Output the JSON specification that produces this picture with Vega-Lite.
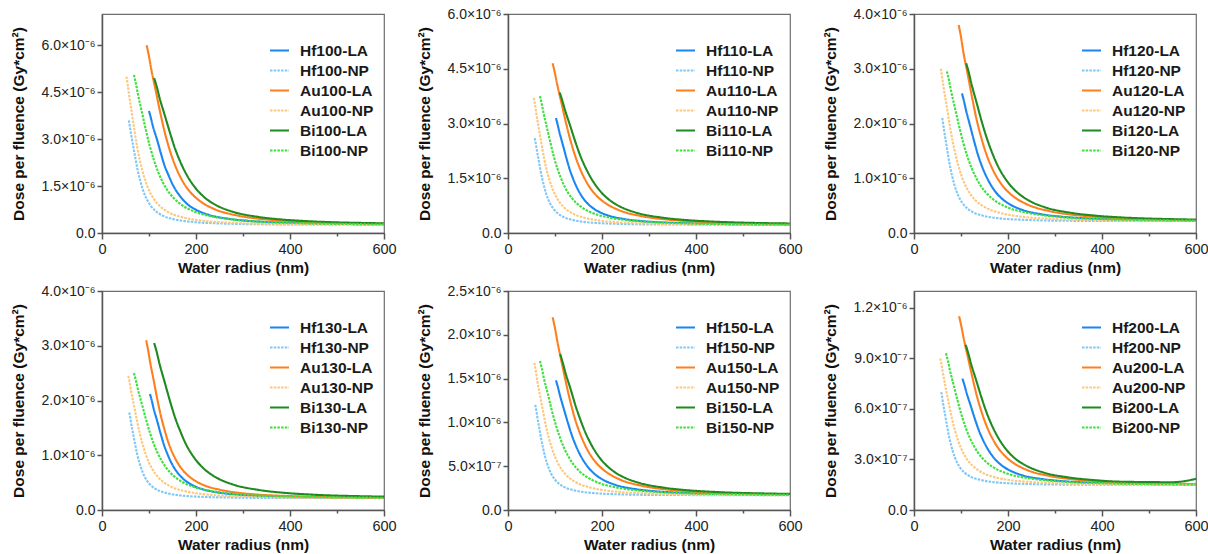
{
"$schema":"https://vega.github.io/schema/vega-lite/v6.json",
"background":"white",
"padding":{"left":10,"top":6,"right":2,"bottom":2},
"columns":3,
"spacing":{"row":6,"column":19},
"datasets":{"d":[
{"k":"Hf100-LA","x":100,"y":3.90e-6},{"k":"Hf100-LA","x":104,"y":3.68e-6},{"k":"Hf100-LA","x":108,"y":3.43e-6},{"k":"Hf100-LA","x":117,"y":2.99e-6},{"k":"Hf100-LA","x":125,"y":2.56e-6},{"k":"Hf100-LA","x":133,"y":2.16e-6},{"k":"Hf100-LA","x":142,"y":1.83e-6},{"k":"Hf100-LA","x":150,"y":1.56e-6},{"k":"Hf100-LA","x":167,"y":1.16e-6},{"k":"Hf100-LA","x":183,"y":0.905e-6},{"k":"Hf100-LA","x":200,"y":0.742e-6},{"k":"Hf100-LA","x":225,"y":0.589e-6},{"k":"Hf100-LA","x":267,"y":0.459e-6},{"k":"Hf100-LA","x":308,"y":0.390e-6},{"k":"Hf100-LA","x":350,"y":0.350e-6},{"k":"Hf100-LA","x":433,"y":0.310e-6},{"k":"Hf100-LA","x":517,"y":0.288e-6},{"k":"Hf100-LA","x":600,"y":0.277e-6},
{"k":"Hf100-NP","x":57,"y":3.60e-6},{"k":"Hf100-NP","x":59.4,"y":3.40e-6},{"k":"Hf100-NP","x":61.8,"y":3.17e-6},{"k":"Hf100-NP","x":66.5,"y":2.77e-6},{"k":"Hf100-NP","x":71.3,"y":2.37e-6},{"k":"Hf100-NP","x":76,"y":2.00e-6},{"k":"Hf100-NP","x":80.8,"y":1.70e-6},{"k":"Hf100-NP","x":85.5,"y":1.45e-6},{"k":"Hf100-NP","x":95,"y":1.09e-6},{"k":"Hf100-NP","x":104.5,"y":0.853e-6},{"k":"Hf100-NP","x":114,"y":0.703e-6},{"k":"Hf100-NP","x":128,"y":0.563e-6},{"k":"Hf100-NP","x":152,"y":0.443e-6},{"k":"Hf100-NP","x":176,"y":0.380e-6},{"k":"Hf100-NP","x":199.5,"y":0.343e-6},{"k":"Hf100-NP","x":247,"y":0.307e-6},{"k":"Hf100-NP","x":294.5,"y":0.287e-6},{"k":"Hf100-NP","x":342,"y":0.277e-6},{"k":"Hf100-NP","x":389.5,"y":0.272e-6},{"k":"Hf100-NP","x":450,"y":0.270e-6},{"k":"Hf100-NP","x":600,"y":0.270e-6},
{"k":"Au100-LA","x":95,"y":6.00e-6},{"k":"Au100-LA","x":99.8,"y":5.66e-6},{"k":"Au100-LA","x":104.5,"y":5.26e-6},{"k":"Au100-LA","x":114,"y":4.57e-6},{"k":"Au100-LA","x":123.5,"y":3.88e-6},{"k":"Au100-LA","x":133,"y":3.25e-6},{"k":"Au100-LA","x":142.5,"y":2.73e-6},{"k":"Au100-LA","x":152,"y":2.30e-6},{"k":"Au100-LA","x":171,"y":1.67e-6},{"k":"Au100-LA","x":190,"y":1.27e-6},{"k":"Au100-LA","x":209,"y":1.015e-6},{"k":"Au100-LA","x":237.5,"y":0.774e-6},{"k":"Au100-LA","x":285,"y":0.568e-6},{"k":"Au100-LA","x":332.5,"y":0.459e-6},{"k":"Au100-LA","x":380,"y":0.396e-6},{"k":"Au100-LA","x":475,"y":0.333e-6},{"k":"Au100-LA","x":570,"y":0.299e-6},{"k":"Au100-LA","x":600,"y":0.293e-6},
{"k":"Au100-NP","x":52,"y":5.00e-6},{"k":"Au100-NP","x":54.9,"y":4.72e-6},{"k":"Au100-NP","x":57.8,"y":4.39e-6},{"k":"Au100-NP","x":63.6,"y":3.82e-6},{"k":"Au100-NP","x":69.3,"y":3.25e-6},{"k":"Au100-NP","x":75.1,"y":2.73e-6},{"k":"Au100-NP","x":80.9,"y":2.30e-6},{"k":"Au100-NP","x":86.7,"y":1.95e-6},{"k":"Au100-NP","x":98.2,"y":1.43e-6},{"k":"Au100-NP","x":109.8,"y":1.10e-6},{"k":"Au100-NP","x":121.3,"y":0.885e-6},{"k":"Au100-NP","x":138.7,"y":0.686e-6},{"k":"Au100-NP","x":167.6,"y":0.516e-6},{"k":"Au100-NP","x":196.4,"y":0.426e-6},{"k":"Au100-NP","x":225.3,"y":0.374e-6},{"k":"Au100-NP","x":283.1,"y":0.322e-6},{"k":"Au100-NP","x":340.9,"y":0.294e-6},{"k":"Au100-NP","x":398.7,"y":0.279e-6},{"k":"Au100-NP","x":456.4,"y":0.272e-6},{"k":"Au100-NP","x":600,"y":0.270e-6},
{"k":"Bi100-LA","x":111,"y":4.95e-6},{"k":"Bi100-LA","x":116.6,"y":4.67e-6},{"k":"Bi100-LA","x":122.1,"y":4.34e-6},{"k":"Bi100-LA","x":133.2,"y":3.78e-6},{"k":"Bi100-LA","x":144.3,"y":3.22e-6},{"k":"Bi100-LA","x":155.4,"y":2.70e-6},{"k":"Bi100-LA","x":166.5,"y":2.28e-6},{"k":"Bi100-LA","x":177.6,"y":1.93e-6},{"k":"Bi100-LA","x":199.8,"y":1.42e-6},{"k":"Bi100-LA","x":222,"y":1.09e-6},{"k":"Bi100-LA","x":244.2,"y":0.878e-6},{"k":"Bi100-LA","x":277.5,"y":0.682e-6},{"k":"Bi100-LA","x":333,"y":0.513e-6},{"k":"Bi100-LA","x":388.5,"y":0.424e-6},{"k":"Bi100-LA","x":444,"y":0.373e-6},{"k":"Bi100-LA","x":555,"y":0.321e-6},{"k":"Bi100-LA","x":600,"y":0.310e-6},
{"k":"Bi100-NP","x":68,"y":5.05e-6},{"k":"Bi100-NP","x":72.3,"y":4.76e-6},{"k":"Bi100-NP","x":76.5,"y":4.43e-6},{"k":"Bi100-NP","x":85,"y":3.86e-6},{"k":"Bi100-NP","x":93.5,"y":3.28e-6},{"k":"Bi100-NP","x":102,"y":2.76e-6},{"k":"Bi100-NP","x":110.5,"y":2.33e-6},{"k":"Bi100-NP","x":119,"y":1.97e-6},{"k":"Bi100-NP","x":136,"y":1.44e-6},{"k":"Bi100-NP","x":153,"y":1.11e-6},{"k":"Bi100-NP","x":170,"y":0.891e-6},{"k":"Bi100-NP","x":195.5,"y":0.691e-6},{"k":"Bi100-NP","x":238,"y":0.519e-6},{"k":"Bi100-NP","x":280.5,"y":0.428e-6},{"k":"Bi100-NP","x":323,"y":0.375e-6},{"k":"Bi100-NP","x":408,"y":0.323e-6},{"k":"Bi100-NP","x":493,"y":0.294e-6},{"k":"Bi100-NP","x":578,"y":0.280e-6},{"k":"Bi100-NP","x":600,"y":0.278e-6},

{"k":"Hf110-LA","x":102,"y":3.15e-6},{"k":"Hf110-LA","x":105.6,"y":2.97e-6},{"k":"Hf110-LA","x":109.3,"y":2.77e-6},{"k":"Hf110-LA","x":116.6,"y":2.42e-6},{"k":"Hf110-LA","x":123.9,"y":2.07e-6},{"k":"Hf110-LA","x":131.1,"y":1.75e-6},{"k":"Hf110-LA","x":138.4,"y":1.49e-6},{"k":"Hf110-LA","x":145.7,"y":1.27e-6},{"k":"Hf110-LA","x":160.3,"y":0.945e-6},{"k":"Hf110-LA","x":174.9,"y":0.741e-6},{"k":"Hf110-LA","x":189.4,"y":0.610e-6},{"k":"Hf110-LA","x":211.3,"y":0.487e-6},{"k":"Hf110-LA","x":247.7,"y":0.382e-6},{"k":"Hf110-LA","x":284.1,"y":0.326e-6},{"k":"Hf110-LA","x":320.6,"y":0.294e-6},{"k":"Hf110-LA","x":393.4,"y":0.262e-6},{"k":"Hf110-LA","x":466.2,"y":0.245e-6},{"k":"Hf110-LA","x":539.2,"y":0.236e-6},{"k":"Hf110-LA","x":600,"y":0.231e-6},
{"k":"Hf110-NP","x":57,"y":2.60e-6},{"k":"Hf110-NP","x":59,"y":2.46e-6},{"k":"Hf110-NP","x":61.1,"y":2.29e-6},{"k":"Hf110-NP","x":65.1,"y":2.01e-6},{"k":"Hf110-NP","x":69.2,"y":1.72e-6},{"k":"Hf110-NP","x":73.3,"y":1.46e-6},{"k":"Hf110-NP","x":77.4,"y":1.25e-6},{"k":"Hf110-NP","x":81.4,"y":1.07e-6},{"k":"Hf110-NP","x":89.6,"y":0.811e-6},{"k":"Hf110-NP","x":97.7,"y":0.645e-6},{"k":"Hf110-NP","x":105.9,"y":0.538e-6},{"k":"Hf110-NP","x":118.1,"y":0.439e-6},{"k":"Hf110-NP","x":138.4,"y":0.353e-6},{"k":"Hf110-NP","x":158.8,"y":0.308e-6},{"k":"Hf110-NP","x":179.1,"y":0.282e-6},{"k":"Hf110-NP","x":219.9,"y":0.256e-6},{"k":"Hf110-NP","x":260.6,"y":0.242e-6},{"k":"Hf110-NP","x":301.3,"y":0.235e-6},{"k":"Hf110-NP","x":342,"y":0.232e-6},{"k":"Hf110-NP","x":450,"y":0.230e-6},{"k":"Hf110-NP","x":600,"y":0.230e-6},
{"k":"Au110-LA","x":95,"y":4.65e-6},{"k":"Au110-LA","x":99.8,"y":4.38e-6},{"k":"Au110-LA","x":104.5,"y":4.08e-6},{"k":"Au110-LA","x":114,"y":3.55e-6},{"k":"Au110-LA","x":123.5,"y":3.01e-6},{"k":"Au110-LA","x":133,"y":2.53e-6},{"k":"Au110-LA","x":142.5,"y":2.13e-6},{"k":"Au110-LA","x":152,"y":1.80e-6},{"k":"Au110-LA","x":171,"y":1.31e-6},{"k":"Au110-LA","x":190,"y":1.00e-6},{"k":"Au110-LA","x":209,"y":0.805e-6},{"k":"Au110-LA","x":237.5,"y":0.619e-6},{"k":"Au110-LA","x":285,"y":0.460e-6},{"k":"Au110-LA","x":332.5,"y":0.376e-6},{"k":"Au110-LA","x":380,"y":0.327e-6},{"k":"Au110-LA","x":475,"y":0.279e-6},{"k":"Au110-LA","x":570,"y":0.252e-6},{"k":"Au110-LA","x":600,"y":0.248e-6},
{"k":"Au110-NP","x":55,"y":3.70e-6},{"k":"Au110-NP","x":57.8,"y":3.49e-6},{"k":"Au110-NP","x":60.5,"y":3.25e-6},{"k":"Au110-NP","x":66,"y":2.83e-6},{"k":"Au110-NP","x":71.5,"y":2.42e-6},{"k":"Au110-NP","x":77,"y":2.03e-6},{"k":"Au110-NP","x":82.5,"y":1.72e-6},{"k":"Au110-NP","x":88,"y":1.46e-6},{"k":"Au110-NP","x":99,"y":1.08e-6},{"k":"Au110-NP","x":110,"y":0.837e-6},{"k":"Au110-NP","x":121,"y":0.681e-6},{"k":"Au110-NP","x":137.5,"y":0.535e-6},{"k":"Au110-NP","x":165,"y":0.410e-6},{"k":"Au110-NP","x":192.5,"y":0.345e-6},{"k":"Au110-NP","x":220,"y":0.306e-6},{"k":"Au110-NP","x":275,"y":0.268e-6},{"k":"Au110-NP","x":330,"y":0.247e-6},{"k":"Au110-NP","x":385,"y":0.237e-6},{"k":"Au110-NP","x":440,"y":0.232e-6},{"k":"Au110-NP","x":600,"y":0.230e-6},
{"k":"Bi110-LA","x":110,"y":3.85e-6},{"k":"Bi110-LA","x":115.5,"y":3.63e-6},{"k":"Bi110-LA","x":121,"y":3.38e-6},{"k":"Bi110-LA","x":132,"y":2.95e-6},{"k":"Bi110-LA","x":143,"y":2.51e-6},{"k":"Bi110-LA","x":154,"y":2.11e-6},{"k":"Bi110-LA","x":165,"y":1.79e-6},{"k":"Bi110-LA","x":176,"y":1.52e-6},{"k":"Bi110-LA","x":198,"y":1.12e-6},{"k":"Bi110-LA","x":220,"y":0.864e-6},{"k":"Bi110-LA","x":242,"y":0.701e-6},{"k":"Bi110-LA","x":275,"y":0.549e-6},{"k":"Bi110-LA","x":330,"y":0.418e-6},{"k":"Bi110-LA","x":385,"y":0.349e-6},{"k":"Bi110-LA","x":440,"y":0.310e-6},{"k":"Bi110-LA","x":550,"y":0.270e-6},{"k":"Bi110-LA","x":600,"y":0.261e-6},
{"k":"Bi110-NP","x":68,"y":3.75e-6},{"k":"Bi110-NP","x":71.8,"y":3.54e-6},{"k":"Bi110-NP","x":75.6,"y":3.29e-6},{"k":"Bi110-NP","x":83.1,"y":2.87e-6},{"k":"Bi110-NP","x":90.7,"y":2.45e-6},{"k":"Bi110-NP","x":98.2,"y":2.06e-6},{"k":"Bi110-NP","x":105.8,"y":1.74e-6},{"k":"Bi110-NP","x":113.3,"y":1.48e-6},{"k":"Bi110-NP","x":128.4,"y":1.09e-6},{"k":"Bi110-NP","x":143.6,"y":0.846e-6},{"k":"Bi110-NP","x":158.7,"y":0.688e-6},{"k":"Bi110-NP","x":181.3,"y":0.540e-6},{"k":"Bi110-NP","x":219.1,"y":0.413e-6},{"k":"Bi110-NP","x":256.9,"y":0.346e-6},{"k":"Bi110-NP","x":294.7,"y":0.307e-6},{"k":"Bi110-NP","x":370.2,"y":0.269e-6},{"k":"Bi110-NP","x":445.8,"y":0.248e-6},{"k":"Bi110-NP","x":521.3,"y":0.237e-6},{"k":"Bi110-NP","x":600,"y":0.230e-6},

{"k":"Hf120-LA","x":102,"y":2.55e-6},{"k":"Hf120-LA","x":106.3,"y":2.41e-6},{"k":"Hf120-LA","x":110.5,"y":2.25e-6},{"k":"Hf120-LA","x":119,"y":1.97e-6},{"k":"Hf120-LA","x":127.5,"y":1.69e-6},{"k":"Hf120-LA","x":136,"y":1.43e-6},{"k":"Hf120-LA","x":144.5,"y":1.22e-6},{"k":"Hf120-LA","x":153,"y":1.05e-6},{"k":"Hf120-LA","x":170,"y":0.791e-6},{"k":"Hf120-LA","x":187,"y":0.628e-6},{"k":"Hf120-LA","x":204,"y":0.523e-6},{"k":"Hf120-LA","x":229.5,"y":0.425e-6},{"k":"Hf120-LA","x":272,"y":0.341e-6},{"k":"Hf120-LA","x":314.5,"y":0.297e-6},{"k":"Hf120-LA","x":357,"y":0.271e-6},{"k":"Hf120-LA","x":442,"y":0.246e-6},{"k":"Hf120-LA","x":527,"y":0.232e-6},{"k":"Hf120-LA","x":600,"y":0.225e-6},
{"k":"Hf120-NP","x":60,"y":2.10e-6},{"k":"Hf120-NP","x":62.1,"y":1.99e-6},{"k":"Hf120-NP","x":64.3,"y":1.86e-6},{"k":"Hf120-NP","x":68.6,"y":1.63e-6},{"k":"Hf120-NP","x":72.9,"y":1.40e-6},{"k":"Hf120-NP","x":77.1,"y":1.20e-6},{"k":"Hf120-NP","x":81.4,"y":1.03e-6},{"k":"Hf120-NP","x":85.7,"y":0.887e-6},{"k":"Hf120-NP","x":94.3,"y":0.681e-6},{"k":"Hf120-NP","x":102.9,"y":0.549e-6},{"k":"Hf120-NP","x":111.4,"y":0.464e-6},{"k":"Hf120-NP","x":124.3,"y":0.385e-6},{"k":"Hf120-NP","x":145.7,"y":0.318e-6},{"k":"Hf120-NP","x":167.1,"y":0.282e-6},{"k":"Hf120-NP","x":188.6,"y":0.261e-6},{"k":"Hf120-NP","x":231.4,"y":0.241e-6},{"k":"Hf120-NP","x":274.3,"y":0.229e-6},{"k":"Hf120-NP","x":317.1,"y":0.224e-6},{"k":"Hf120-NP","x":360,"y":0.221e-6},{"k":"Hf120-NP","x":450,"y":0.220e-6},{"k":"Hf120-NP","x":600,"y":0.220e-6},
{"k":"Au120-LA","x":95,"y":3.80e-6},{"k":"Au120-LA","x":99.8,"y":3.59e-6},{"k":"Au120-LA","x":104.5,"y":3.33e-6},{"k":"Au120-LA","x":114,"y":2.91e-6},{"k":"Au120-LA","x":123.5,"y":2.48e-6},{"k":"Au120-LA","x":133,"y":2.08e-6},{"k":"Au120-LA","x":142.5,"y":1.76e-6},{"k":"Au120-LA","x":152,"y":1.49e-6},{"k":"Au120-LA","x":171,"y":1.10e-6},{"k":"Au120-LA","x":190,"y":0.847e-6},{"k":"Au120-LA","x":209,"y":0.685e-6},{"k":"Au120-LA","x":237.5,"y":0.535e-6},{"k":"Au120-LA","x":285,"y":0.406e-6},{"k":"Au120-LA","x":332.5,"y":0.338e-6},{"k":"Au120-LA","x":380,"y":0.299e-6},{"k":"Au120-LA","x":475,"y":0.259e-6},{"k":"Au120-LA","x":570,"y":0.238e-6},{"k":"Au120-LA","x":600,"y":0.234e-6},
{"k":"Au120-NP","x":57,"y":3.00e-6},{"k":"Au120-NP","x":60.2,"y":2.83e-6},{"k":"Au120-NP","x":63.3,"y":2.64e-6},{"k":"Au120-NP","x":69.7,"y":2.31e-6},{"k":"Au120-NP","x":76,"y":1.97e-6},{"k":"Au120-NP","x":82.3,"y":1.67e-6},{"k":"Au120-NP","x":88.7,"y":1.42e-6},{"k":"Au120-NP","x":95,"y":1.21e-6},{"k":"Au120-NP","x":107.7,"y":0.901e-6},{"k":"Au120-NP","x":120.3,"y":0.707e-6},{"k":"Au120-NP","x":133,"y":0.581e-6},{"k":"Au120-NP","x":152,"y":0.465e-6},{"k":"Au120-NP","x":183.7,"y":0.365e-6},{"k":"Au120-NP","x":215.3,"y":0.312e-6},{"k":"Au120-NP","x":247,"y":0.281e-6},{"k":"Au120-NP","x":310.3,"y":0.251e-6},{"k":"Au120-NP","x":373.7,"y":0.234e-6},{"k":"Au120-NP","x":437,"y":0.226e-6},{"k":"Au120-NP","x":500.3,"y":0.221e-6},{"k":"Au120-NP","x":600,"y":0.220e-6},
{"k":"Bi120-LA","x":111,"y":3.10e-6},{"k":"Bi120-LA","x":116.6,"y":2.93e-6},{"k":"Bi120-LA","x":122.1,"y":2.73e-6},{"k":"Bi120-LA","x":133.2,"y":2.38e-6},{"k":"Bi120-LA","x":144.3,"y":2.03e-6},{"k":"Bi120-LA","x":155.4,"y":1.72e-6},{"k":"Bi120-LA","x":166.5,"y":1.46e-6},{"k":"Bi120-LA","x":177.6,"y":1.24e-6},{"k":"Bi120-LA","x":199.8,"y":0.926e-6},{"k":"Bi120-LA","x":222,"y":0.724e-6},{"k":"Bi120-LA","x":244.2,"y":0.594e-6},{"k":"Bi120-LA","x":277.5,"y":0.473e-6},{"k":"Bi120-LA","x":333,"y":0.370e-6},{"k":"Bi120-LA","x":388.5,"y":0.315e-6},{"k":"Bi120-LA","x":444,"y":0.283e-6},{"k":"Bi120-LA","x":555,"y":0.252e-6},{"k":"Bi120-LA","x":600,"y":0.245e-6},
{"k":"Bi120-NP","x":70,"y":2.95e-6},{"k":"Bi120-NP","x":74.4,"y":2.79e-6},{"k":"Bi120-NP","x":78.8,"y":2.60e-6},{"k":"Bi120-NP","x":87.5,"y":2.27e-6},{"k":"Bi120-NP","x":96.3,"y":1.94e-6},{"k":"Bi120-NP","x":105,"y":1.64e-6},{"k":"Bi120-NP","x":113.8,"y":1.39e-6},{"k":"Bi120-NP","x":122.5,"y":1.19e-6},{"k":"Bi120-NP","x":140,"y":0.889e-6},{"k":"Bi120-NP","x":157.5,"y":0.698e-6},{"k":"Bi120-NP","x":175,"y":0.575e-6},{"k":"Bi120-NP","x":201.3,"y":0.460e-6},{"k":"Bi120-NP","x":245,"y":0.362e-6},{"k":"Bi120-NP","x":288.8,"y":0.310e-6},{"k":"Bi120-NP","x":332.5,"y":0.280e-6},{"k":"Bi120-NP","x":420,"y":0.250e-6},{"k":"Bi120-NP","x":507.5,"y":0.234e-6},{"k":"Bi120-NP","x":600,"y":0.225e-6},

{"k":"Hf130-LA","x":102,"y":2.12e-6},{"k":"Hf130-LA","x":105.6,"y":2.01e-6},{"k":"Hf130-LA","x":109.3,"y":1.87e-6},{"k":"Hf130-LA","x":116.6,"y":1.65e-6},{"k":"Hf130-LA","x":123.9,"y":1.42e-6},{"k":"Hf130-LA","x":131.1,"y":1.21e-6},{"k":"Hf130-LA","x":138.4,"y":1.04e-6},{"k":"Hf130-LA","x":145.7,"y":0.895e-6},{"k":"Hf130-LA","x":160.3,"y":0.686e-6},{"k":"Hf130-LA","x":174.9,"y":0.553e-6},{"k":"Hf130-LA","x":189.4,"y":0.467e-6},{"k":"Hf130-LA","x":211.3,"y":0.387e-6},{"k":"Hf130-LA","x":247.7,"y":0.319e-6},{"k":"Hf130-LA","x":284.1,"y":0.283e-6},{"k":"Hf130-LA","x":320.6,"y":0.262e-6},{"k":"Hf130-LA","x":393.4,"y":0.241e-6},{"k":"Hf130-LA","x":466.2,"y":0.230e-6},{"k":"Hf130-LA","x":539.2,"y":0.224e-6},{"k":"Hf130-LA","x":600,"y":0.221e-6},
{"k":"Hf130-NP","x":58,"y":1.78e-6},{"k":"Hf130-NP","x":60.1,"y":1.69e-6},{"k":"Hf130-NP","x":62.1,"y":1.58e-6},{"k":"Hf130-NP","x":66.3,"y":1.39e-6},{"k":"Hf130-NP","x":70.4,"y":1.20e-6},{"k":"Hf130-NP","x":74.6,"y":1.03e-6},{"k":"Hf130-NP","x":78.7,"y":0.891e-6},{"k":"Hf130-NP","x":82.9,"y":0.774e-6},{"k":"Hf130-NP","x":91.1,"y":0.602e-6},{"k":"Hf130-NP","x":99.4,"y":0.493e-6},{"k":"Hf130-NP","x":107.7,"y":0.423e-6},{"k":"Hf130-NP","x":120.1,"y":0.357e-6},{"k":"Hf130-NP","x":140.9,"y":0.301e-6},{"k":"Hf130-NP","x":161.6,"y":0.271e-6},{"k":"Hf130-NP","x":182.3,"y":0.254e-6},{"k":"Hf130-NP","x":223.7,"y":0.237e-6},{"k":"Hf130-NP","x":265.1,"y":0.228e-6},{"k":"Hf130-NP","x":306.6,"y":0.223e-6},{"k":"Hf130-NP","x":348,"y":0.221e-6},{"k":"Hf130-NP","x":450,"y":0.220e-6},{"k":"Hf130-NP","x":600,"y":0.220e-6},
{"k":"Au130-LA","x":94,"y":3.10e-6},{"k":"Au130-LA","x":97.9,"y":2.93e-6},{"k":"Au130-LA","x":101.8,"y":2.73e-6},{"k":"Au130-LA","x":109.7,"y":2.38e-6},{"k":"Au130-LA","x":117.5,"y":2.03e-6},{"k":"Au130-LA","x":125.3,"y":1.72e-6},{"k":"Au130-LA","x":133.2,"y":1.46e-6},{"k":"Au130-LA","x":141,"y":1.24e-6},{"k":"Au130-LA","x":156.7,"y":0.926e-6},{"k":"Au130-LA","x":172.3,"y":0.724e-6},{"k":"Au130-LA","x":188,"y":0.594e-6},{"k":"Au130-LA","x":211.5,"y":0.473e-6},{"k":"Au130-LA","x":250.7,"y":0.370e-6},{"k":"Au130-LA","x":289.8,"y":0.315e-6},{"k":"Au130-LA","x":329,"y":0.283e-6},{"k":"Au130-LA","x":407.3,"y":0.252e-6},{"k":"Au130-LA","x":485.7,"y":0.234e-6},{"k":"Au130-LA","x":564,"y":0.226e-6},{"k":"Au130-LA","x":600,"y":0.224e-6},
{"k":"Au130-NP","x":56,"y":2.45e-6},{"k":"Au130-NP","x":59.1,"y":2.32e-6},{"k":"Au130-NP","x":62.2,"y":2.16e-6},{"k":"Au130-NP","x":68.4,"y":1.89e-6},{"k":"Au130-NP","x":74.7,"y":1.62e-6},{"k":"Au130-NP","x":80.9,"y":1.38e-6},{"k":"Au130-NP","x":87.1,"y":1.18e-6},{"k":"Au130-NP","x":93.3,"y":1.01e-6},{"k":"Au130-NP","x":105.8,"y":0.766e-6},{"k":"Au130-NP","x":118.2,"y":0.610e-6},{"k":"Au130-NP","x":130.7,"y":0.510e-6},{"k":"Au130-NP","x":149.3,"y":0.416e-6},{"k":"Au130-NP","x":180.4,"y":0.336e-6},{"k":"Au130-NP","x":211.6,"y":0.294e-6},{"k":"Au130-NP","x":242.7,"y":0.269e-6},{"k":"Au130-NP","x":304.9,"y":0.245e-6},{"k":"Au130-NP","x":367.1,"y":0.231e-6},{"k":"Au130-NP","x":429.3,"y":0.224e-6},{"k":"Au130-NP","x":491.6,"y":0.221e-6},{"k":"Au130-NP","x":600,"y":0.220e-6},
{"k":"Bi130-LA","x":111,"y":3.05e-6},{"k":"Bi130-LA","x":116.6,"y":2.88e-6},{"k":"Bi130-LA","x":122.1,"y":2.68e-6},{"k":"Bi130-LA","x":133.2,"y":2.34e-6},{"k":"Bi130-LA","x":144.3,"y":2.00e-6},{"k":"Bi130-LA","x":155.4,"y":1.69e-6},{"k":"Bi130-LA","x":166.5,"y":1.44e-6},{"k":"Bi130-LA","x":177.6,"y":1.22e-6},{"k":"Bi130-LA","x":199.8,"y":0.913e-6},{"k":"Bi130-LA","x":222,"y":0.715e-6},{"k":"Bi130-LA","x":244.2,"y":0.588e-6},{"k":"Bi130-LA","x":277.5,"y":0.469e-6},{"k":"Bi130-LA","x":333,"y":0.367e-6},{"k":"Bi130-LA","x":388.5,"y":0.313e-6},{"k":"Bi130-LA","x":444,"y":0.282e-6},{"k":"Bi130-LA","x":555,"y":0.251e-6},{"k":"Bi130-LA","x":600,"y":0.244e-6},
{"k":"Bi130-NP","x":68,"y":2.50e-6},{"k":"Bi130-NP","x":72.3,"y":2.36e-6},{"k":"Bi130-NP","x":76.5,"y":2.20e-6},{"k":"Bi130-NP","x":85,"y":1.93e-6},{"k":"Bi130-NP","x":93.5,"y":1.66e-6},{"k":"Bi130-NP","x":102,"y":1.41e-6},{"k":"Bi130-NP","x":110.5,"y":1.20e-6},{"k":"Bi130-NP","x":119,"y":1.03e-6},{"k":"Bi130-NP","x":136,"y":0.779e-6},{"k":"Bi130-NP","x":153,"y":0.619e-6},{"k":"Bi130-NP","x":170,"y":0.516e-6},{"k":"Bi130-NP","x":195.5,"y":0.421e-6},{"k":"Bi130-NP","x":238,"y":0.339e-6},{"k":"Bi130-NP","x":280.5,"y":0.295e-6},{"k":"Bi130-NP","x":323,"y":0.270e-6},{"k":"Bi130-NP","x":408,"y":0.245e-6},{"k":"Bi130-NP","x":493,"y":0.231e-6},{"k":"Bi130-NP","x":578,"y":0.225e-6},{"k":"Bi130-NP","x":600,"y":0.224e-6},

{"k":"Hf150-LA","x":102,"y":1.48e-6},{"k":"Hf150-LA","x":106.3,"y":1.40e-6},{"k":"Hf150-LA","x":110.5,"y":1.31e-6},{"k":"Hf150-LA","x":119,"y":1.15e-6},{"k":"Hf150-LA","x":127.5,"y":0.995e-6},{"k":"Hf150-LA","x":136,"y":0.851e-6},{"k":"Hf150-LA","x":144.5,"y":0.733e-6},{"k":"Hf150-LA","x":153,"y":0.635e-6},{"k":"Hf150-LA","x":170,"y":0.491e-6},{"k":"Hf150-LA","x":187,"y":0.399e-6},{"k":"Hf150-LA","x":204,"y":0.340e-6},{"k":"Hf150-LA","x":229.5,"y":0.285e-6},{"k":"Hf150-LA","x":272,"y":0.238e-6},{"k":"Hf150-LA","x":314.5,"y":0.213e-6},{"k":"Hf150-LA","x":357,"y":0.199e-6},{"k":"Hf150-LA","x":442,"y":0.184e-6},{"k":"Hf150-LA","x":527,"y":0.177e-6},{"k":"Hf150-LA","x":600,"y":0.173e-6},
{"k":"Hf150-NP","x":58,"y":1.20e-6},{"k":"Hf150-NP","x":60.1,"y":1.14e-6},{"k":"Hf150-NP","x":62.1,"y":1.07e-6},{"k":"Hf150-NP","x":66.3,"y":0.943e-6},{"k":"Hf150-NP","x":70.4,"y":0.819e-6},{"k":"Hf150-NP","x":74.6,"y":0.706e-6},{"k":"Hf150-NP","x":78.7,"y":0.613e-6},{"k":"Hf150-NP","x":82.9,"y":0.536e-6},{"k":"Hf150-NP","x":91.1,"y":0.422e-6},{"k":"Hf150-NP","x":99.4,"y":0.350e-6},{"k":"Hf150-NP","x":107.7,"y":0.304e-6},{"k":"Hf150-NP","x":120.1,"y":0.261e-6},{"k":"Hf150-NP","x":140.9,"y":0.224e-6},{"k":"Hf150-NP","x":161.6,"y":0.204e-6},{"k":"Hf150-NP","x":182.3,"y":0.193e-6},{"k":"Hf150-NP","x":223.7,"y":0.181e-6},{"k":"Hf150-NP","x":265.1,"y":0.175e-6},{"k":"Hf150-NP","x":306.6,"y":0.172e-6},{"k":"Hf150-NP","x":348,"y":0.171e-6},{"k":"Hf150-NP","x":450,"y":0.170e-6},{"k":"Hf150-NP","x":600,"y":0.170e-6},
{"k":"Au150-LA","x":95,"y":2.20e-6},{"k":"Au150-LA","x":99.8,"y":2.08e-6},{"k":"Au150-LA","x":104.5,"y":1.94e-6},{"k":"Au150-LA","x":114,"y":1.69e-6},{"k":"Au150-LA","x":123.5,"y":1.45e-6},{"k":"Au150-LA","x":133,"y":1.23e-6},{"k":"Au150-LA","x":142.5,"y":1.04e-6},{"k":"Au150-LA","x":152,"y":0.891e-6},{"k":"Au150-LA","x":171,"y":0.667e-6},{"k":"Au150-LA","x":190,"y":0.525e-6},{"k":"Au150-LA","x":209,"y":0.434e-6},{"k":"Au150-LA","x":237.5,"y":0.349e-6},{"k":"Au150-LA","x":285,"y":0.276e-6},{"k":"Au150-LA","x":332.5,"y":0.237e-6},{"k":"Au150-LA","x":380,"y":0.215e-6},{"k":"Au150-LA","x":475,"y":0.192e-6},{"k":"Au150-LA","x":570,"y":0.180e-6},{"k":"Au150-LA","x":600,"y":0.178e-6},
{"k":"Au150-NP","x":56,"y":1.68e-6},{"k":"Au150-NP","x":59.1,"y":1.59e-6},{"k":"Au150-NP","x":62.2,"y":1.48e-6},{"k":"Au150-NP","x":68.4,"y":1.30e-6},{"k":"Au150-NP","x":74.7,"y":1.12e-6},{"k":"Au150-NP","x":80.9,"y":0.955e-6},{"k":"Au150-NP","x":87.1,"y":0.819e-6},{"k":"Au150-NP","x":93.3,"y":0.706e-6},{"k":"Au150-NP","x":105.8,"y":0.540e-6},{"k":"Au150-NP","x":118.2,"y":0.434e-6},{"k":"Au150-NP","x":130.7,"y":0.366e-6},{"k":"Au150-NP","x":149.3,"y":0.303e-6},{"k":"Au150-NP","x":180.4,"y":0.249e-6},{"k":"Au150-NP","x":211.6,"y":0.220e-6},{"k":"Au150-NP","x":242.7,"y":0.203e-6},{"k":"Au150-NP","x":304.9,"y":0.187e-6},{"k":"Au150-NP","x":367.1,"y":0.178e-6},{"k":"Au150-NP","x":429.3,"y":0.173e-6},{"k":"Au150-NP","x":491.6,"y":0.171e-6},{"k":"Au150-NP","x":600,"y":0.170e-6},
{"k":"Bi150-LA","x":111,"y":1.78e-6},{"k":"Bi150-LA","x":116.6,"y":1.68e-6},{"k":"Bi150-LA","x":122.1,"y":1.57e-6},{"k":"Bi150-LA","x":133.2,"y":1.38e-6},{"k":"Bi150-LA","x":144.3,"y":1.18e-6},{"k":"Bi150-LA","x":155.4,"y":1.01e-6},{"k":"Bi150-LA","x":166.5,"y":0.862e-6},{"k":"Bi150-LA","x":177.6,"y":0.742e-6},{"k":"Bi150-LA","x":199.8,"y":0.564e-6},{"k":"Bi150-LA","x":222,"y":0.452e-6},{"k":"Bi150-LA","x":244.2,"y":0.379e-6},{"k":"Bi150-LA","x":277.5,"y":0.312e-6},{"k":"Bi150-LA","x":333,"y":0.254e-6},{"k":"Bi150-LA","x":388.5,"y":0.223e-6},{"k":"Bi150-LA","x":444,"y":0.205e-6},{"k":"Bi150-LA","x":555,"y":0.188e-6},{"k":"Bi150-LA","x":600,"y":0.184e-6},
{"k":"Bi150-NP","x":68,"y":1.70e-6},{"k":"Bi150-NP","x":72.3,"y":1.61e-6},{"k":"Bi150-NP","x":76.5,"y":1.50e-6},{"k":"Bi150-NP","x":85,"y":1.32e-6},{"k":"Bi150-NP","x":93.5,"y":1.13e-6},{"k":"Bi150-NP","x":102,"y":0.966e-6},{"k":"Bi150-NP","x":110.5,"y":0.828e-6},{"k":"Bi150-NP","x":119,"y":0.713e-6},{"k":"Bi150-NP","x":136,"y":0.545e-6},{"k":"Bi150-NP","x":153,"y":0.438e-6},{"k":"Bi150-NP","x":170,"y":0.369e-6},{"k":"Bi150-NP","x":195.5,"y":0.305e-6},{"k":"Bi150-NP","x":238,"y":0.250e-6},{"k":"Bi150-NP","x":280.5,"y":0.220e-6},{"k":"Bi150-NP","x":323,"y":0.204e-6},{"k":"Bi150-NP","x":408,"y":0.187e-6},{"k":"Bi150-NP","x":493,"y":0.178e-6},{"k":"Bi150-NP","x":578,"y":0.173e-6},{"k":"Bi150-NP","x":600,"y":0.172e-6},

{"k":"Hf200-LA","x":103,"y":0.780e-6},{"k":"Hf200-LA","x":107.3,"y":0.742e-6},{"k":"Hf200-LA","x":111.6,"y":0.698e-6},{"k":"Hf200-LA","x":120.2,"y":0.623e-6},{"k":"Hf200-LA","x":128.8,"y":0.547e-6},{"k":"Hf200-LA","x":137.3,"y":0.478e-6},{"k":"Hf200-LA","x":145.9,"y":0.421e-6},{"k":"Hf200-LA","x":154.5,"y":0.374e-6},{"k":"Hf200-LA","x":171.7,"y":0.304e-6},{"k":"Hf200-LA","x":188.8,"y":0.260e-6},{"k":"Hf200-LA","x":206,"y":0.232e-6},{"k":"Hf200-LA","x":231.8,"y":0.205e-6},{"k":"Hf200-LA","x":274.7,"y":0.183e-6},{"k":"Hf200-LA","x":317.6,"y":0.171e-6},{"k":"Hf200-LA","x":360.5,"y":0.164e-6},{"k":"Hf200-LA","x":446.3,"y":0.157e-6},{"k":"Hf200-LA","x":532.2,"y":0.153e-6},{"k":"Hf200-LA","x":600,"y":0.151e-6},
{"k":"Hf200-NP","x":58,"y":0.700e-6},{"k":"Hf200-NP","x":60.1,"y":0.667e-6},{"k":"Hf200-NP","x":62.1,"y":0.629e-6},{"k":"Hf200-NP","x":66.3,"y":0.563e-6},{"k":"Hf200-NP","x":70.4,"y":0.497e-6},{"k":"Hf200-NP","x":74.6,"y":0.436e-6},{"k":"Hf200-NP","x":78.7,"y":0.387e-6},{"k":"Hf200-NP","x":82.9,"y":0.345e-6},{"k":"Hf200-NP","x":91.1,"y":0.285e-6},{"k":"Hf200-NP","x":99.4,"y":0.246e-6},{"k":"Hf200-NP","x":107.7,"y":0.222e-6},{"k":"Hf200-NP","x":120.1,"y":0.198e-6},{"k":"Hf200-NP","x":140.9,"y":0.179e-6},{"k":"Hf200-NP","x":161.6,"y":0.168e-6},{"k":"Hf200-NP","x":182.3,"y":0.162e-6},{"k":"Hf200-NP","x":223.7,"y":0.156e-6},{"k":"Hf200-NP","x":265.1,"y":0.153e-6},{"k":"Hf200-NP","x":306.6,"y":0.151e-6},{"k":"Hf200-NP","x":348,"y":0.150e-6},{"k":"Hf200-NP","x":450,"y":0.150e-6},{"k":"Hf200-NP","x":600,"y":0.150e-6},
{"k":"Au200-LA","x":96,"y":1.15e-6},{"k":"Au200-LA","x":100.8,"y":1.09e-6},{"k":"Au200-LA","x":105.6,"y":1.02e-6},{"k":"Au200-LA","x":115.2,"y":0.900e-6},{"k":"Au200-LA","x":124.8,"y":0.780e-6},{"k":"Au200-LA","x":134.4,"y":0.670e-6},{"k":"Au200-LA","x":144,"y":0.580e-6},{"k":"Au200-LA","x":153.6,"y":0.505e-6},{"k":"Au200-LA","x":172.8,"y":0.395e-6},{"k":"Au200-LA","x":192,"y":0.325e-6},{"k":"Au200-LA","x":211.2,"y":0.280e-6},{"k":"Au200-LA","x":240,"y":0.238e-6},{"k":"Au200-LA","x":288,"y":0.202e-6},{"k":"Au200-LA","x":336,"y":0.183e-6},{"k":"Au200-LA","x":384,"y":0.172e-6},{"k":"Au200-LA","x":480,"y":0.161e-6},{"k":"Au200-LA","x":576,"y":0.155e-6},{"k":"Au200-LA","x":600,"y":0.154e-6},
{"k":"Au200-NP","x":56,"y":0.900e-6},{"k":"Au200-NP","x":59.1,"y":0.855e-6},{"k":"Au200-NP","x":62.2,"y":0.803e-6},{"k":"Au200-NP","x":68.4,"y":0.713e-6},{"k":"Au200-NP","x":74.7,"y":0.623e-6},{"k":"Au200-NP","x":80.9,"y":0.540e-6},{"k":"Au200-NP","x":87.1,"y":0.473e-6},{"k":"Au200-NP","x":93.3,"y":0.416e-6},{"k":"Au200-NP","x":105.8,"y":0.334e-6},{"k":"Au200-NP","x":118.2,"y":0.281e-6},{"k":"Au200-NP","x":130.7,"y":0.248e-6},{"k":"Au200-NP","x":149.3,"y":0.216e-6},{"k":"Au200-NP","x":180.4,"y":0.189e-6},{"k":"Au200-NP","x":211.6,"y":0.175e-6},{"k":"Au200-NP","x":242.7,"y":0.167e-6},{"k":"Au200-NP","x":304.9,"y":0.158e-6},{"k":"Au200-NP","x":367.1,"y":0.154e-6},{"k":"Au200-NP","x":429.3,"y":0.152e-6},{"k":"Au200-NP","x":491.6,"y":0.150e-6},{"k":"Au200-NP","x":600,"y":0.150e-6},
{"k":"Bi200-LA","x":110,"y":0.980e-6},{"k":"Bi200-LA","x":115.5,"y":0.930e-6},{"k":"Bi200-LA","x":121,"y":0.872e-6},{"k":"Bi200-LA","x":132,"y":0.773e-6},{"k":"Bi200-LA","x":143,"y":0.673e-6},{"k":"Bi200-LA","x":154,"y":0.582e-6},{"k":"Bi200-LA","x":165,"y":0.507e-6},{"k":"Bi200-LA","x":176,"y":0.445e-6},{"k":"Bi200-LA","x":198,"y":0.353e-6},{"k":"Bi200-LA","x":220,"y":0.295e-6},{"k":"Bi200-LA","x":242,"y":0.258e-6},{"k":"Bi200-LA","x":275,"y":0.223e-6},{"k":"Bi200-LA","x":330,"y":0.193e-6},{"k":"Bi200-LA","x":385,"y":0.177e-6},{"k":"Bi200-LA","x":440,"y":0.168e-6},{"k":"Bi200-LA","x":550,"y":0.165e-6},{"k":"Bi200-LA","x":600,"y":0.185e-6},
{"k":"Bi200-NP","x":68,"y":0.930e-6},{"k":"Bi200-NP","x":72.3,"y":0.883e-6},{"k":"Bi200-NP","x":76.5,"y":0.829e-6},{"k":"Bi200-NP","x":85,"y":0.735e-6},{"k":"Bi200-NP","x":93.5,"y":0.641e-6},{"k":"Bi200-NP","x":102,"y":0.556e-6},{"k":"Bi200-NP","x":110.5,"y":0.485e-6},{"k":"Bi200-NP","x":119,"y":0.427e-6},{"k":"Bi200-NP","x":136,"y":0.341e-6},{"k":"Bi200-NP","x":153,"y":0.287e-6},{"k":"Bi200-NP","x":170,"y":0.251e-6},{"k":"Bi200-NP","x":195.5,"y":0.219e-6},{"k":"Bi200-NP","x":238,"y":0.191e-6},{"k":"Bi200-NP","x":280.5,"y":0.176e-6},{"k":"Bi200-NP","x":323,"y":0.167e-6},{"k":"Bi200-NP","x":408,"y":0.159e-6},{"k":"Bi200-NP","x":493,"y":0.154e-6},{"k":"Bi200-NP","x":578,"y":0.152e-6},{"k":"Bi200-NP","x":600,"y":0.151e-6}
]},
"concat":[
{"width":282,"height":219,"data":{"name":"d"},"transform":[{"filter":"indexof(datum.k,'100-')>0"}],
"mark":{"type":"line","interpolate":"monotone","strokeWidth":2.1},
"encoding":{
"x":{"field":"x","type":"quantitative","title":"Water radius (nm)","scale":{"domain":[0,600],"nice":false},"axis":{"values":[0,100,200,300,400,500,600],"labelExpr":"datum.value % 200 === 0 ? datum.label : ''","tickSize":{"condition":{"test":"datum.value % 200 === 0","value":6},"value":3}}},
"y":{"field":"y","type":"quantitative","title":"Dose per fluence (Gy*cm²)","scale":{"domain":[0,7e-6],"nice":false},"axis":{"values":[0,1.5e-6,3e-6,4.5e-6,6e-6],"labelExpr":"datum.value == 0 ? '0.0' : (datum.value < 9.9e-7 ? format(datum.value*1e7,'.1f') + '×10⁻⁷' : format(datum.value*1e6,'.1f') + '×10⁻⁶')"}},
"color":{"field":"k","type":"nominal","scale":{"domain":["Hf100-LA","Hf100-NP","Au100-LA","Au100-NP","Bi100-LA","Bi100-NP"],"range":["#1a86f2","#7fc8f5","#ff7f1e","#fec77a","#1f8a1f","#3ce03c"]},"legend":{"orient":"none","legendX":167,"legendY":26,"title":null}},
"strokeDash":{"field":"k","type":"nominal","scale":{"domain":["Hf100-LA","Hf100-NP","Au100-LA","Au100-NP","Bi100-LA","Bi100-NP"],"range":[[1,0],[2.5,1.2],[1,0],[2.5,1.2],[1,0],[2.5,1.2]]},"legend":{"orient":"none","legendX":167,"legendY":26,"title":null}}}},
{"width":282,"height":219,"data":{"name":"d"},"transform":[{"filter":"indexof(datum.k,'110-')>0"}],
"mark":{"type":"line","interpolate":"monotone","strokeWidth":2.1},
"encoding":{
"x":{"field":"x","type":"quantitative","title":"Water radius (nm)","scale":{"domain":[0,600],"nice":false},"axis":{"values":[0,100,200,300,400,500,600],"labelExpr":"datum.value % 200 === 0 ? datum.label : ''","tickSize":{"condition":{"test":"datum.value % 200 === 0","value":6},"value":3}}},
"y":{"field":"y","type":"quantitative","title":"Dose per fluence (Gy*cm²)","scale":{"domain":[0,6e-6],"nice":false},"axis":{"values":[0,1.5e-6,3e-6,4.5e-6,6e-6],"labelExpr":"datum.value == 0 ? '0.0' : (datum.value < 9.9e-7 ? format(datum.value*1e7,'.1f') + '×10⁻⁷' : format(datum.value*1e6,'.1f') + '×10⁻⁶')"}},
"color":{"field":"k","type":"nominal","scale":{"domain":["Hf110-LA","Hf110-NP","Au110-LA","Au110-NP","Bi110-LA","Bi110-NP"],"range":["#1a86f2","#7fc8f5","#ff7f1e","#fec77a","#1f8a1f","#3ce03c"]},"legend":{"orient":"none","legendX":167,"legendY":26,"title":null}},
"strokeDash":{"field":"k","type":"nominal","scale":{"domain":["Hf110-LA","Hf110-NP","Au110-LA","Au110-NP","Bi110-LA","Bi110-NP"],"range":[[1,0],[2.5,1.2],[1,0],[2.5,1.2],[1,0],[2.5,1.2]]},"legend":{"orient":"none","legendX":167,"legendY":26,"title":null}}}},
{"width":282,"height":219,"data":{"name":"d"},"transform":[{"filter":"indexof(datum.k,'120-')>0"}],
"mark":{"type":"line","interpolate":"monotone","strokeWidth":2.1},
"encoding":{
"x":{"field":"x","type":"quantitative","title":"Water radius (nm)","scale":{"domain":[0,600],"nice":false},"axis":{"values":[0,100,200,300,400,500,600],"labelExpr":"datum.value % 200 === 0 ? datum.label : ''","tickSize":{"condition":{"test":"datum.value % 200 === 0","value":6},"value":3}}},
"y":{"field":"y","type":"quantitative","title":"Dose per fluence (Gy*cm²)","scale":{"domain":[0,4e-6],"nice":false},"axis":{"values":[0,1e-6,2e-6,3e-6,4e-6],"labelExpr":"datum.value == 0 ? '0.0' : (datum.value < 9.9e-7 ? format(datum.value*1e7,'.1f') + '×10⁻⁷' : format(datum.value*1e6,'.1f') + '×10⁻⁶')"}},
"color":{"field":"k","type":"nominal","scale":{"domain":["Hf120-LA","Hf120-NP","Au120-LA","Au120-NP","Bi120-LA","Bi120-NP"],"range":["#1a86f2","#7fc8f5","#ff7f1e","#fec77a","#1f8a1f","#3ce03c"]},"legend":{"orient":"none","legendX":167,"legendY":26,"title":null}},
"strokeDash":{"field":"k","type":"nominal","scale":{"domain":["Hf120-LA","Hf120-NP","Au120-LA","Au120-NP","Bi120-LA","Bi120-NP"],"range":[[1,0],[2.5,1.2],[1,0],[2.5,1.2],[1,0],[2.5,1.2]]},"legend":{"orient":"none","legendX":167,"legendY":26,"title":null}}}},
{"width":282,"height":219,"data":{"name":"d"},"transform":[{"filter":"indexof(datum.k,'130-')>0"}],
"mark":{"type":"line","interpolate":"monotone","strokeWidth":2.1},
"encoding":{
"x":{"field":"x","type":"quantitative","title":"Water radius (nm)","scale":{"domain":[0,600],"nice":false},"axis":{"values":[0,100,200,300,400,500,600],"labelExpr":"datum.value % 200 === 0 ? datum.label : ''","tickSize":{"condition":{"test":"datum.value % 200 === 0","value":6},"value":3}}},
"y":{"field":"y","type":"quantitative","title":"Dose per fluence (Gy*cm²)","scale":{"domain":[0,4e-6],"nice":false},"axis":{"values":[0,1e-6,2e-6,3e-6,4e-6],"labelExpr":"datum.value == 0 ? '0.0' : (datum.value < 9.9e-7 ? format(datum.value*1e7,'.1f') + '×10⁻⁷' : format(datum.value*1e6,'.1f') + '×10⁻⁶')"}},
"color":{"field":"k","type":"nominal","scale":{"domain":["Hf130-LA","Hf130-NP","Au130-LA","Au130-NP","Bi130-LA","Bi130-NP"],"range":["#1a86f2","#7fc8f5","#ff7f1e","#fec77a","#1f8a1f","#3ce03c"]},"legend":{"orient":"none","legendX":167,"legendY":26,"title":null}},
"strokeDash":{"field":"k","type":"nominal","scale":{"domain":["Hf130-LA","Hf130-NP","Au130-LA","Au130-NP","Bi130-LA","Bi130-NP"],"range":[[1,0],[2.5,1.2],[1,0],[2.5,1.2],[1,0],[2.5,1.2]]},"legend":{"orient":"none","legendX":167,"legendY":26,"title":null}}}},
{"width":282,"height":219,"data":{"name":"d"},"transform":[{"filter":"indexof(datum.k,'150-')>0"}],
"mark":{"type":"line","interpolate":"monotone","strokeWidth":2.1},
"encoding":{
"x":{"field":"x","type":"quantitative","title":"Water radius (nm)","scale":{"domain":[0,600],"nice":false},"axis":{"values":[0,100,200,300,400,500,600],"labelExpr":"datum.value % 200 === 0 ? datum.label : ''","tickSize":{"condition":{"test":"datum.value % 200 === 0","value":6},"value":3}}},
"y":{"field":"y","type":"quantitative","title":"Dose per fluence (Gy*cm²)","scale":{"domain":[0,2.5e-6],"nice":false},"axis":{"values":[0,5e-7,1e-6,1.5e-6,2e-6,2.5e-6],"labelExpr":"datum.value == 0 ? '0.0' : (datum.value < 9.9e-7 ? format(datum.value*1e7,'.1f') + '×10⁻⁷' : format(datum.value*1e6,'.1f') + '×10⁻⁶')"}},
"color":{"field":"k","type":"nominal","scale":{"domain":["Hf150-LA","Hf150-NP","Au150-LA","Au150-NP","Bi150-LA","Bi150-NP"],"range":["#1a86f2","#7fc8f5","#ff7f1e","#fec77a","#1f8a1f","#3ce03c"]},"legend":{"orient":"none","legendX":167,"legendY":26,"title":null}},
"strokeDash":{"field":"k","type":"nominal","scale":{"domain":["Hf150-LA","Hf150-NP","Au150-LA","Au150-NP","Bi150-LA","Bi150-NP"],"range":[[1,0],[2.5,1.2],[1,0],[2.5,1.2],[1,0],[2.5,1.2]]},"legend":{"orient":"none","legendX":167,"legendY":26,"title":null}}}},
{"width":282,"height":219,"data":{"name":"d"},"transform":[{"filter":"indexof(datum.k,'200-')>0"}],
"mark":{"type":"line","interpolate":"monotone","strokeWidth":2.1},
"encoding":{
"x":{"field":"x","type":"quantitative","title":"Water radius (nm)","scale":{"domain":[0,600],"nice":false},"axis":{"values":[0,100,200,300,400,500,600],"labelExpr":"datum.value % 200 === 0 ? datum.label : ''","tickSize":{"condition":{"test":"datum.value % 200 === 0","value":6},"value":3}}},
"y":{"field":"y","type":"quantitative","title":"Dose per fluence (Gy*cm²)","scale":{"domain":[0,1.3e-6],"nice":false},"axis":{"values":[0,3e-7,6e-7,9e-7,1.2e-6],"labelExpr":"datum.value == 0 ? '0.0' : (datum.value < 9.9e-7 ? format(datum.value*1e7,'.1f') + '×10⁻⁷' : format(datum.value*1e6,'.1f') + '×10⁻⁶')"}},
"color":{"field":"k","type":"nominal","scale":{"domain":["Hf200-LA","Hf200-NP","Au200-LA","Au200-NP","Bi200-LA","Bi200-NP"],"range":["#1a86f2","#7fc8f5","#ff7f1e","#fec77a","#1f8a1f","#3ce03c"]},"legend":{"orient":"none","legendX":167,"legendY":26,"title":null}},
"strokeDash":{"field":"k","type":"nominal","scale":{"domain":["Hf200-LA","Hf200-NP","Au200-LA","Au200-NP","Bi200-LA","Bi200-NP"],"range":[[1,0],[2.5,1.2],[1,0],[2.5,1.2],[1,0],[2.5,1.2]]},"legend":{"orient":"none","legendX":167,"legendY":26,"title":null}}}}
],
"resolve":{"scale":{"x":"independent","y":"independent","color":"independent","strokeDash":"independent"}},
"config":{
"font":"Liberation Sans",
"view":{"stroke":"#6e6e6e","strokeWidth":1.2},
"axis":{"grid":false,"domainColor":"#555555","domainWidth":1.5,"tickColor":"#555555","tickWidth":1.5,"labelFont":"Liberation Sans","labelColor":"#222222","titleFont":"Liberation Sans","titleFontWeight":"bold","titleFontSize":15.5,"titleColor":"#111111","labelFlush":false,"labelOverlap":false},
"axisX":{"labelFontSize":14.5,"labelPadding":3,"titlePadding":5},
"axisY":{"labelFontSize":14,"tickSize":5,"labelPadding":2,"titlePadding":15},
"legend":{"symbolType":"stroke","symbolSize":361,"symbolStrokeWidth":2,"labelFont":"Liberation Sans","labelFontSize":15.5,"labelFontWeight":"bold","labelColor":"#1a1a1a","labelOffset":10,"rowPadding":1,"padding":0,"labelLimit":200}
}
}
